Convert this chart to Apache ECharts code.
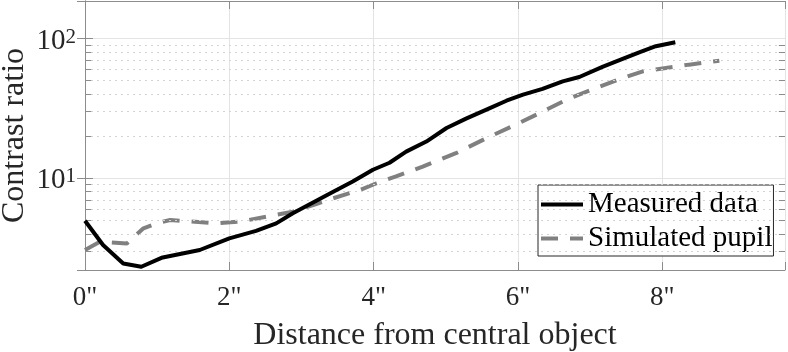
<!DOCTYPE html>
<html lang="en">
<head>
    <meta charset="UTF-8">
    <title>Contrast ratio</title>
    <script src="https://cdn.jsdelivr.net/npm/echarts@6/dist/echarts.min.js"></script>
    <style>
        html, body { margin: 0; padding: 0; background: #fff; }
        #chart { width: 788px; height: 352px; }
    </style>
</head>
<body>
<div id="chart"></div>
<script type="text/javascript">
    // 数据
    var measuredX = [0, 0.25, 0.53, 0.78, 1.06, 1.59, 2.0, 2.37, 2.65, 2.88, 3.44, 3.71, 3.99,
        4.22, 4.45, 4.73, 5.01, 5.28, 5.61, 5.84, 6.07, 6.34, 6.62, 6.85, 7.17, 7.45, 7.68, 7.91, 8.18];
    var measuredY = [4.96, 3.32, 2.45, 2.32, 2.69, 3.06, 3.71, 4.19, 4.75, 5.61, 8.01, 9.46, 11.5,
        12.9, 15.5, 18.3, 22.9, 26.7, 31.8, 35.9, 39.7, 43.6, 49.4, 53.1, 62.7, 71.6, 79.8, 88.2, 94.2];
    var simX = [0, 0.21, 0.58, 0.81, 0.99, 1.18, 1.82, 2.14, 2.51, 2.88, 3.16, 3.44, 3.81, 4.04,
        4.31, 4.68, 5.14, 5.61, 5.97, 6.3, 6.67, 7.08, 7.45, 7.73, 8.05, 8.37, 8.79];
    var simY = [3.06, 3.51, 3.41, 4.38, 4.75, 5.02, 4.75, 4.88, 5.3, 5.75, 6.43, 7.18, 8.24, 9.2,
        10.3, 12.1, 15.1, 19.9, 24.2, 29.3, 36.5, 44.3, 52.3, 58.3, 61.6, 65.1, 69.5];
    var seriesNames = ['Measured data', 'Simulated pupil'];
    var minorY = [3, 4, 5, 6, 7, 8, 9, 20, 30, 40, 50, 60, 70, 80, 90];

    var xMin = 0, xMax = 9.7, yMin = 2.2, yMax = 186;
    var font = '"Liberation Serif", "DejaVu Serif", serif';
    var ink = '#262626';
    var boxColor = '#8c8c8c';

    function pairs(xs, ys) {
        var out = [];
        for (var i = 0; i < xs.length; i++) out.push([xs[i], ys[i]]);
        return out;
    }

    // 10^n labels with superscript
    function powLabel(v) {
        var e = Math.log10(v);
        if (Math.abs(e - Math.round(e)) > 1e-6) return '';
        return '{b|10}{s|' + Math.round(e) + '}';
    }

    // minor dotted grid + little minor ticks on both sides
    var minorGrid = minorY.map(function (v) { return { yAxis: v }; });
    var tickLen = 0.085;
    var minorTicks = [];
    minorY.forEach(function (v) {
        minorTicks.push([{ coord: [xMin, v] }, { coord: [xMin + tickLen, v] }]);
        minorTicks.push([{ coord: [xMax - tickLen, v] }, { coord: [xMax, v] }]);
    });

    var myChart = echarts.init(document.getElementById('chart'), null, { renderer: 'canvas' });

    var yAxisBase = {
        type: 'log',
        logBase: 10,
        min: yMin,
        max: yMax,
        axisLine: { show: true, lineStyle: { color: boxColor, width: 1 } },
        axisTick: { show: true, inside: true, length: 8, lineStyle: { color: boxColor } }
    };

    var option = {
        backgroundColor: '#fff',
        animation: false,
        grid: { left: 85, right: 3, top: 1, bottom: 82, containLabel: false, outerBoundsMode: 'none' },
        legend: {
            orient: 'vertical',
            left: 538,
            top: 185,
            padding: [5, 1, 3, 1],
            itemGap: 5,
            itemWidth: 42,
            itemHeight: 14,
            backgroundColor: '#fff',
            borderColor: '#262626',
            borderWidth: 1,
            borderRadius: 0,
            itemStyle: { color: 'rgba(0,0,0,0)', borderWidth: 0, opacity: 0 },
            lineStyle: { width: 4 },
            textStyle: { fontFamily: font, fontSize: 29, color: '#000', lineHeight: 28 },
            data: seriesNames
        },
        xAxis: [{
            type: 'value',
            min: xMin,
            max: xMax,
            interval: 2,
            name: 'Distance from central object',
            nameLocation: 'middle',
            nameGap: 50,
            nameMoveOverlap: false,
            nameTextStyle: { fontFamily: font, fontSize: 32, color: ink },
            axisLine: { show: true, onZero: false, lineStyle: { color: boxColor } },
            axisTick: { show: true, inside: true, length: 8, lineStyle: { color: boxColor } },
            axisLabel: {
                margin: 14,
                fontFamily: font,
                fontSize: 27,
                color: ink,
                formatter: function (v) { return v % 2 === 0 ? v + '"' : ''; }
            },
            splitLine: { show: true, lineStyle: { color: '#e3e3e3', width: 1 } }
        }, {
            type: 'value',
            position: 'top',
            min: xMin,
            max: xMax,
            interval: 2,
            axisLine: { show: true, onZero: false, lineStyle: { color: boxColor } },
            axisTick: { show: true, inside: true, length: 8, lineStyle: { color: boxColor } },
            axisLabel: { show: false },
            splitLine: { show: false }
        }],
        yAxis: [Object.assign({}, yAxisBase, {
            position: 'left',
            name: 'Contrast ratio',
            nameLocation: 'middle',
            nameGap: 54,
            nameMoveOverlap: false,
            nameTextStyle: { fontFamily: font, fontSize: 32, color: ink },
            axisLabel: {
                margin: 9,
                padding: [5, 0, 0, 0],
                color: ink,
                formatter: powLabel,
                rich: {
                    b: { fontFamily: font, fontSize: 29, lineHeight: 29, color: ink, verticalAlign: 'bottom', padding: [7, 0, 0, 0] },
                    s: { fontFamily: font, fontSize: 21, lineHeight: 21, color: ink, verticalAlign: 'top' }
                }
            },
            splitLine: { show: true, lineStyle: { color: '#e3e3e3', width: 1 } }
        }), Object.assign({}, yAxisBase, {
            position: 'right',
            axisLabel: { show: false },
            splitLine: { show: false }
        })],
        series: [{
            name: seriesNames[0],
            type: 'line',
            data: pairs(measuredX, measuredY),
            symbol: 'none',
            z: 5,
            lineStyle: { color: '#000', width: 4, join: 'round' },
            itemStyle: { color: '#000' },
            markLine: {
                silent: true,
                symbol: 'none',
                animation: false,
                label: { show: false },
                lineStyle: { type: [2, 4], color: '#d4d4d4', width: 1 },
                data: minorGrid
            }
        }, {
            name: seriesNames[1],
            type: 'line',
            data: pairs(simX, simY),
            symbol: 'none',
            z: 4,
            lineStyle: { color: '#808080', width: 4, type: [17, 12] },
            itemStyle: { color: '#808080' },
            markLine: {
                silent: true,
                symbol: 'none',
                animation: false,
                label: { show: false },
                lineStyle: { type: 'solid', color: boxColor, width: 1 },
                data: minorTicks
            }
        }]
    };

    myChart.setOption(option);
</script>
</body>
</html>
